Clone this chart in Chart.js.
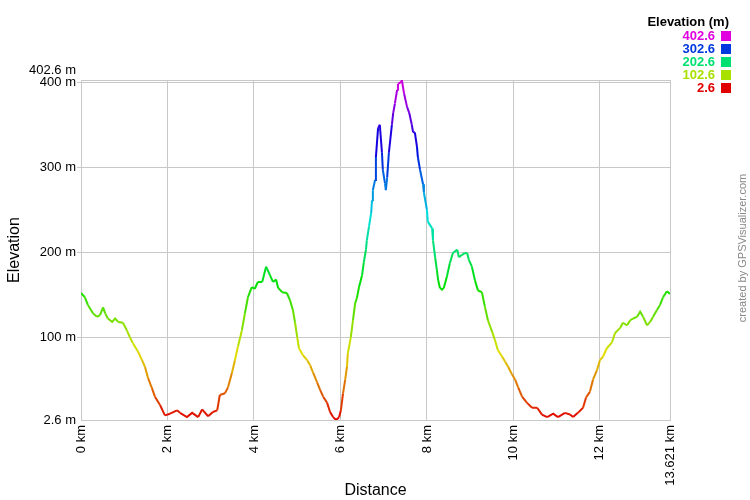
<!DOCTYPE html>
<html>
<head>
<meta charset="utf-8">
<script src="https://cdn.jsdelivr.net/npm/chart.js@4.4.1/dist/chart.umd.min.js"></script>
<style>
  html, body { margin: 0; padding: 0; background: #fff; }
  canvas { display: block; }
</style>
</head>
<body>
<canvas id="profile" width="750" height="500"></canvas>
<script>
// distance along the track (km)
const distances = [
  0.00, 0.09, 0.16, 0.28, 0.37, 0.44, 0.51, 0.56, 0.62, 0.72, 0.79, 0.86, 0.97,
  1.06, 1.13, 1.20, 1.32, 1.41, 1.48, 1.55, 1.64, 1.71, 1.83, 1.94,
  2.06, 2.22, 2.29, 2.45, 2.57, 2.71, 2.80, 2.94,
  3.05, 3.15, 3.21, 3.33, 3.40, 3.49, 3.56, 3.63, 3.72, 3.79, 3.86, 3.95,
  4.02, 4.09, 4.19, 4.28, 4.37, 4.44, 4.51, 4.56, 4.65, 4.76, 4.83, 4.90, 4.95,
  5.00, 5.04, 5.13, 5.23, 5.30, 5.37, 5.46, 5.53, 5.60, 5.69, 5.76, 5.83, 5.90, 5.97,
  6.01, 6.06, 6.11, 6.15, 6.17, 6.24, 6.29, 6.34, 6.38, 6.43, 6.50, 6.54, 6.59, 6.61,
  6.66, 6.71, 6.73, 6.75, 6.80, 6.82, 6.87, 6.91, 6.96, 6.98,
  7.03, 7.05, 7.08, 7.12, 7.19, 7.22, 7.26, 7.31, 7.33, 7.40, 7.42, 7.47, 7.54, 7.59,
  7.65, 7.68, 7.72, 7.77, 7.79, 7.84, 7.91, 7.93,
  8.00, 8.02, 8.12, 8.14, 8.19, 8.23, 8.26, 8.30, 8.35, 8.39, 8.46, 8.53, 8.60, 8.70,
  8.74, 8.81, 8.88, 8.93, 8.97,
  9.04, 9.11, 9.18, 9.27, 9.34, 9.41, 9.51, 9.57, 9.64, 9.74, 9.81, 9.88, 9.97,
  10.04, 10.11, 10.20, 10.31, 10.43, 10.55, 10.66, 10.78, 10.92,
  11.03, 11.19, 11.31, 11.38, 11.49, 11.61, 11.68, 11.77, 11.84, 11.93,
  12.00, 12.07, 12.16, 12.28, 12.35, 12.47, 12.53, 12.63, 12.70, 12.77, 12.86, 12.93,
  13.00, 13.09, 13.16, 13.23, 13.32, 13.39, 13.46, 13.55, 13.621
];

// elevation (m)
const elevations = [
  152, 147, 138, 128, 124, 126, 135, 128, 122, 118, 122, 118, 117,
  108, 100, 93, 83, 73, 65, 52, 40, 30, 20, 8,
  10, 14, 11, 6, 11, 6, 15, 7,
  12, 14, 32, 34, 41, 58, 73, 89, 108, 128, 147, 159,
  157, 165, 165, 183, 173, 165, 168, 158, 153, 152, 144, 132, 117,
  100, 87, 79, 73, 67, 58, 47, 38, 30, 23, 12, 6, 2.6, 6,
  14, 34, 50, 65, 81, 100, 120, 140, 146, 159, 173, 188, 203, 214,
  230, 246, 261, 273, 285, 312, 346, 350, 317, 297,
  281, 273, 288, 317, 350, 364, 375, 391, 398, 400, 402.6, 387, 371, 364,
  350, 341, 341, 324, 312, 297, 280, 270,
  250, 236, 228, 214, 194, 179, 167, 158, 156, 158, 171, 187, 199, 203,
  194, 197, 199, 199, 191,
  183, 167, 155, 153, 136, 120, 106, 97, 85, 77, 71, 65, 56,
  50, 41, 30, 23, 17, 17, 9, 6, 10,
  6, 11, 9, 6, 11, 17, 29, 36, 50, 61,
  73, 77, 87, 94, 105, 111, 117, 114, 120, 122, 124, 130,
  124, 114, 118, 124, 132, 138, 147, 154, 151
];

const xTicks = [0, 2, 4, 6, 8, 10, 12, 13.621];
const yTicks = [2.6, 100, 200, 300, 400, 402.6];
const legendValues = [402.6, 302.6, 202.6, 102.6, 2.6];

const minEle = 2.6;
const maxEle = 402.6;
const FONT = 'Arial, "Liberation Sans", sans-serif';
const GRID = '#c8c8c8';

// red -> yellow -> green -> blue -> magenta
function eleColor(v) {
  const t = Math.max(0, Math.min(1, (v - minEle) / (maxEle - minEle)));
  return 'hsl(' + (t * 300).toFixed(1) + ', 100%, 44%)';
}

const points = distances.map((d, i) => ({ x: d, y: elevations[i] }));

const extrasPlugin = {
  id: 'extras',
  afterDraw(chart) {
    const ctx = chart.ctx;
    const yScale = chart.scales.y;
    ctx.save();

    // top value label sits just above the 400 m tick
    ctx.font = '13px ' + FONT;
    ctx.fillStyle = '#000';
    ctx.textAlign = 'right';
    ctx.textBaseline = 'middle';
    ctx.fillText(maxEle + ' m', 76, yScale.getPixelForValue(maxEle) - 10);

    // colour key
    ctx.font = 'bold 13px ' + FONT;
    ctx.textAlign = 'right';
    ctx.fillText('Elevation (m)', 729, 22);
    legendValues.forEach((v, i) => {
      const cy = 36 + i * 13;
      ctx.fillStyle = eleColor(v);
      ctx.fillText(String(v), 715, cy);
      ctx.fillRect(721, cy - 5, 10, 10);
    });

    // credit
    ctx.translate(743, 248);
    ctx.rotate(-Math.PI / 2);
    ctx.font = '11px ' + FONT;
    ctx.fillStyle = '#888';
    ctx.textAlign = 'center';
    ctx.fillText('created by GPSVisualizer.com', 0, 0);
    ctx.restore();
  }
};

new Chart(document.getElementById('profile'), {
  type: 'line',
  data: {
    datasets: [{
      data: points,
      borderWidth: 2,
      pointRadius: 0,
      tension: 0,
      fill: false,
      borderColor: eleColor(200),
      segment: {
        borderColor: c => eleColor((c.p0.parsed.y + c.p1.parsed.y) / 2)
      }
    }]
  },
  options: {
    responsive: false,
    animation: false,
    events: [],
    layout: { padding: { top: 80, right: 80, left: 0, bottom: 0 } },
    plugins: {
      legend: { display: false },
      tooltip: { enabled: false }
    },
    scales: {
      x: {
        type: 'linear',
        min: 0,
        max: 13.621,
        afterFit: s => { s.height = 80; },
        afterBuildTicks: s => { s.ticks = xTicks.map(v => ({ value: v })); },
        grid: { color: GRID, tickLength: 4, tickColor: 'rgba(0,0,0,0)' },
        border: { color: GRID },
        ticks: {
          autoSkip: false,
          minRotation: 90,
          maxRotation: 90,
          padding: 1,
          color: '#000',
          font: { family: FONT, size: 13 },
          callback: v => v + ' km'
        },
        title: {
          display: true,
          text: 'Distance',
          color: '#000',
          font: { family: FONT, size: 16 },
          padding: 0
        }
      },
      y: {
        min: minEle,
        max: maxEle,
        afterFit: s => { s.width = 81; },
        afterBuildTicks: s => { s.ticks = yTicks.map(v => ({ value: v })); },
        grid: {
          color: GRID,
          tickLength: 4,
          tickColor: c => (c.tick && (c.tick.value === minEle || c.tick.value === maxEle)) ? 'rgba(0,0,0,0)' : GRID
        },
        border: { color: GRID },
        ticks: {
          padding: 1,
          color: '#000',
          font: { family: FONT, size: 13 },
          callback: v => v === maxEle ? '' : v + ' m'
        },
        title: {
          display: true,
          text: 'Elevation',
          color: '#000',
          font: { family: FONT, size: 16 },
          padding: 5
        }
      }
    }
  },
  plugins: [extrasPlugin]
});
</script>
</body>
</html>
